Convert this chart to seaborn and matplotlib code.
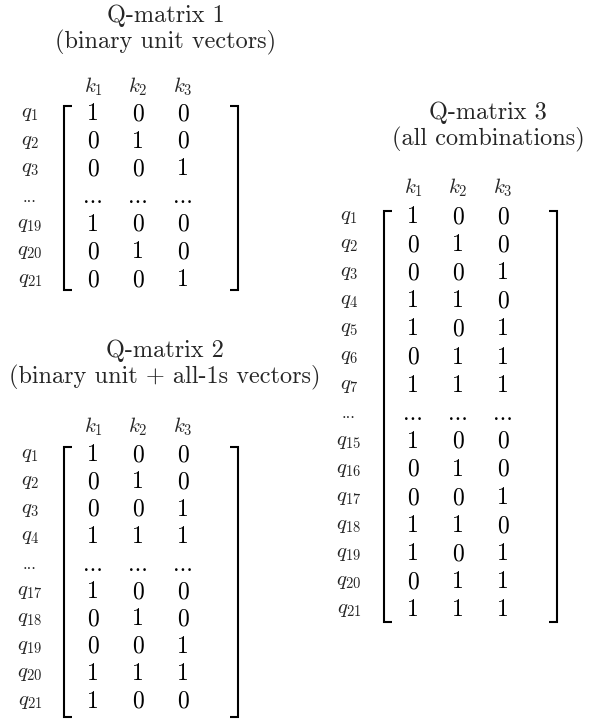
import matplotlib
matplotlib.use("Agg")
import matplotlib.pyplot as plt
import numpy as np
import pandas as pd
import seaborn as sns
from matplotlib.colors import ListedColormap

# skills (columns) shared by the three Q-matrices
SKILLS = ["$k_1$", "$k_2$", "$k_3$"]
DOTS = "..."

Q1_TITLE = "Q-matrix 1\n(binary unit vectors)"
Q1_ITEMS = ["$q_{1}$", "$q_{2}$", "$q_{3}$", DOTS, "$q_{19}$", "$q_{20}$", "$q_{21}$"]
Q1_VALUES = [[1, 0, 0], [0, 1, 0], [0, 0, 1], None,
             [1, 0, 0], [0, 1, 0], [0, 0, 1]]

Q2_TITLE = "Q-matrix 2\n(binary unit + all-1s vectors)"
Q2_ITEMS = ["$q_{1}$", "$q_{2}$", "$q_{3}$", "$q_{4}$", DOTS,
            "$q_{17}$", "$q_{18}$", "$q_{19}$", "$q_{20}$", "$q_{21}$"]
Q2_VALUES = [[1, 0, 0], [0, 1, 0], [0, 0, 1], [1, 1, 1], None,
             [1, 0, 0], [0, 1, 0], [0, 0, 1], [1, 1, 1], [1, 0, 0]]

Q3_TITLE = "Q-matrix 3\n(all combinations)"
Q3_ITEMS = ["$q_{1}$", "$q_{2}$", "$q_{3}$", "$q_{4}$", "$q_{5}$", "$q_{6}$", "$q_{7}$", DOTS,
            "$q_{15}$", "$q_{16}$", "$q_{17}$", "$q_{18}$", "$q_{19}$", "$q_{20}$", "$q_{21}$"]
Q3_VALUES = [[1, 0, 0], [0, 1, 0], [0, 0, 1], [1, 1, 0], [1, 0, 1], [0, 1, 1], [1, 1, 1], None,
             [1, 0, 0], [0, 1, 0], [0, 0, 1], [1, 1, 0], [1, 0, 1], [0, 1, 1], [1, 1, 1]]

W, H, DPI = 594, 721, 100
PT = 72 / DPI  # points per pixel

sns.set_style("white")
plt.rcParams["font.family"] = ["cmr10", "DejaVu Serif"]
plt.rcParams["mathtext.fontset"] = "cm"
plt.rcParams["axes.formatter.use_mathtext"] = True


def draw_matrix(fig, items, values, title, box, col0, col_step, row0, row_step,
                label_x, skill_y, title_xy):
    left, right, top, bottom = box
    annot = np.array([[DOTS] * 3 if row is None else [str(v) for v in row] for row in values])
    shade = np.array([[0, 0, 0] if row is None else row for row in values], dtype=float)
    df = pd.DataFrame(shade, index=items, columns=SKILLS)

    ax = fig.add_axes([left / W, 1 - bottom / H, (right - left) / W, (bottom - top) / H])
    sns.heatmap(df, annot=annot, fmt="", cmap=ListedColormap(["white"]), cbar=False,
                xticklabels=SKILLS, yticklabels=items, ax=ax,
                annot_kws={"fontsize": 17, "color": "black"})

    # place cell centres where the reference has them
    ax.set_xlim(0.5 - (col0 - left) / col_step, 0.5 + (right - col0) / col_step)
    ax.set_ylim(0.5 + (bottom - row0) / row_step, 0.5 - (row0 - top) / row_step)

    ax.xaxis.tick_top()
    ax.tick_params(axis="x", length=0, pad=(top - skill_y) * PT, labelsize=15)
    ax.tick_params(axis="y", length=0, pad=(left - label_x) * PT, labelsize=15)
    for t in ax.get_xticklabels():
        t.set_va("center")
        t.set_rotation(0)
    for t in ax.get_yticklabels():
        t.set_ha("center")
        t.set_va("center")
        t.set_rotation(0)
        if t.get_text() == DOTS:
            t.set_fontsize(12)
    ax.set_xlabel("")
    ax.set_ylabel("")

    # square brackets around the matrix
    hook = 8 / (right - left)
    kw = dict(transform=ax.transAxes, color="black", lw=1.5, clip_on=False,
              solid_joinstyle="miter", solid_capstyle="butt")
    ax.plot([hook, 0, 0, hook], [1, 1, 0, 0], **kw)
    ax.plot([1 - hook, 1, 1, 1 - hook], [1, 1, 0, 0], **kw)

    fig.text(title_xy[0] / W, 1 - title_xy[1] / H, title, ha="center", va="center",
             fontsize=17.5, linespacing=1.15)
    return ax


fig = plt.figure(figsize=(W / DPI, H / DPI), dpi=DPI)

draw_matrix(fig, Q1_ITEMS, Q1_VALUES, Q1_TITLE, box=(64, 238, 106, 290),
            col0=93, col_step=45, row0=114, row_step=27.67,
            label_x=30, skill_y=87, title_xy=(166, 30))
draw_matrix(fig, Q2_ITEMS, Q2_VALUES, Q2_TITLE, box=(64, 238, 447, 717),
            col0=93, col_step=45, row0=455, row_step=27.4,
            label_x=30, skill_y=427, title_xy=(165, 365))
draw_matrix(fig, Q3_ITEMS, Q3_VALUES, Q3_TITLE, box=(384, 557, 211, 622),
            col0=413, col_step=45, row0=217, row_step=28.1,
            label_x=349, skill_y=188, title_xy=(488, 127))

fig.savefig("out.png", dpi=DPI)
